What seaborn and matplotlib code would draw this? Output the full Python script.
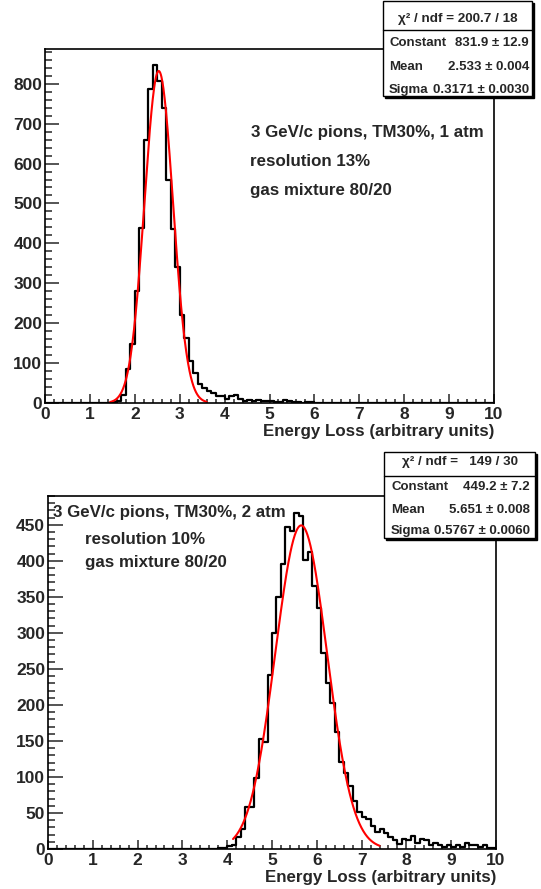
import numpy as np
import pandas as pd
import seaborn as sns
import matplotlib
matplotlib.use("Agg")
import matplotlib.pyplot as plt
from matplotlib.patches import Rectangle
from matplotlib.ticker import MultipleLocator

# histogram counts, 100 bins of 0.1 between 0 and 10
bin_centers = np.arange(100) * 0.1 + 0.05

counts_1atm = [0] * 15 + [
    2, 5, 20, 86, 147, 281, 439, 660, 787, 846,        # 1.5 - 2.5
    807, 739, 560, 435, 342, 221, 164, 106, 75, 48,    # 2.5 - 3.5
    38, 31, 24, 17, 17, 10, 17, 20, 10, 6,             # 3.5 - 4.5
    8, 5, 7, 5, 5, 4, 3, 2, 7, 4,                      # 4.5 - 5.5
    2, 3, 1, 3, 2, 1, 1, 0, 1, 0,                      # 5.5 - 6.5
    1, 0, 0, 1, 0, 0, 1, 0, 0, 0,                      # 6.5 - 7.5
] + [0] * 25

counts_2atm = [0] * 38 + [
    1, 2,                                              # 3.8 - 4.0
    4, 5, 17, 28, 58, 58, 99, 153, 149, 241,           # 4.0 - 5.0
    300, 350, 396, 447, 441, 467, 462, 401, 412, 365,  # 5.0 - 6.0
    335, 272, 231, 202, 163, 121, 105, 88, 67, 52,     # 6.0 - 7.0
    45, 42, 32, 23, 28, 22, 16, 12, 7, 14,             # 7.0 - 8.0
    13, 18, 9, 14, 12, 5, 9, 5, 3, 5,                  # 8.0 - 9.0
    3, 5, 3, 9, 6, 5, 3, 5, 1, 2,                      # 9.0 - 10.0
]

# gaussian fit results (constant, mean, sigma) and fit ranges
fit_1atm = (831.9, 2.533, 0.3171)
fit_range_1atm = (1.45, 3.6)
fit_2atm = (449.2, 5.651, 0.5767)
fit_range_2atm = (4.13, 7.4)

stats_1atm = ["\u03c7\u00b2 / ndf = 200.7 / 18",
              ("Constant", "831.9 \u00b1 12.9"),
              ("Mean", "2.533 \u00b1 0.004"),
              ("Sigma", "0.3171 \u00b1 0.0030")]
stats_2atm = ["\u03c7\u00b2 / ndf =   149 / 30",
              ("Constant", "449.2 \u00b1 7.2"),
              ("Mean", "5.651 \u00b1 0.008"),
              ("Sigma", "0.5767 \u00b1 0.0060")]

notes_1atm = ["3 GeV/c pions, TM30%, 1 atm", "resolution 13%", "gas mixture 80/20"]
notes_2atm = ["3 GeV/c pions, TM30%, 2 atm", "resolution 10%", "gas mixture 80/20"]

sns.set_style("white")
plt.rcParams['font.family'] = ['Liberation Sans', 'DejaVu Sans']
plt.rcParams['font.weight'] = 'bold'

W, H = 541, 889
fig = plt.figure(figsize=(W / 100, H / 100), dpi=100)


def fx(px):
    return px / W


def fy(py):
    return 1 - py / H


def panel(rect, counts, fit, fit_range, ymax, ymaj, ymin, ylen):
    l, t, r, b = rect
    ax = fig.add_axes([fx(l), fy(b), (r - l) / W, (b - t) / H])
    df = pd.DataFrame({"x": bin_centers, "n": counts})
    sns.histplot(data=df, x="x", weights="n", bins=100, binrange=(0, 10),
                 element="step", fill=False, color="black", linewidth=1.6, ax=ax)
    a, mu, sg = fit
    xs = np.linspace(fit_range[0], fit_range[1], 300)
    sns.lineplot(x=xs, y=a * np.exp(-0.5 * ((xs - mu) / sg) ** 2),
                 color="red", linewidth=1.5, ax=ax)
    ax.set_xlim(0, 10)
    ax.set_ylim(0, ymax)
    ax.xaxis.set_major_locator(MultipleLocator(1))
    ax.xaxis.set_minor_locator(MultipleLocator(0.2))
    ax.yaxis.set_major_locator(MultipleLocator(ymaj))
    ax.yaxis.set_minor_locator(MultipleLocator(ymin))
    ax.tick_params(axis="x", which="major", direction="in", length=6.5, width=1.1,
                   labelsize=12.5, pad=3)
    ax.tick_params(axis="x", which="minor", direction="in", length=3.2, width=1.1)
    ax.tick_params(axis="y", which="major", direction="in", length=ylen, width=1.1,
                   labelsize=12.5, pad=2)
    ax.tick_params(axis="y", which="minor", direction="in", length=ylen / 2,
                   width=1.1)
    ax.tick_params(bottom=True, left=True, top=False, right=False, which="both")
    for lbl in ax.get_xticklabels() + ax.get_yticklabels():
        lbl.set_fontweight("bold")
    for s in ax.spines.values():
        s.set_linewidth(1.2)
        s.set_color("black")
    ax.set_ylabel("")
    ax.set_xlabel("Energy Loss (arbitrary units)", loc="right", fontsize=12.2,
                  fontweight="bold", labelpad=1)
    return ax


def stats_box(l, t, r, b, sep, rows, rows_y, lx, rx):
    fig.add_artist(Rectangle((fx(l + 2), fy(b + 2)), (r - l) / W, (b - t) / H,
                             transform=fig.transFigure, facecolor="black",
                             edgecolor="black", zorder=5))
    fig.add_artist(Rectangle((fx(l), fy(b)), (r - l) / W, (b - t) / H,
                             transform=fig.transFigure, facecolor="white",
                             edgecolor="black", linewidth=1, zorder=6))
    fig.add_artist(plt.Line2D([fx(l), fx(r)], [fy(sep), fy(sep)],
                              transform=fig.transFigure, color="black",
                              linewidth=1, zorder=7))
    header, *params = rows
    fig.text(fx((l + r) / 2), fy(rows_y[0]), header, ha="center", va="center",
             fontsize=9.7, fontweight="bold", zorder=8)
    for (name, val), yy in zip(params, rows_y[1:]):
        fig.text(fx(lx), fy(yy), name, ha="left", va="center", fontsize=9.5,
                 fontweight="bold", zorder=8)
        fig.text(fx(rx), fy(yy), val, ha="right", va="center", fontsize=9.5,
                 fontweight="bold", zorder=8)


ax1 = panel((45, 49, 494, 403), counts_1atm, fit_1atm, fit_range_1atm,
            887, 100, 20, 10)
ax2 = panel((48, 496, 496, 849), counts_2atm, fit_2atm, fit_range_2atm,
            490, 50, 10, 10.5)

stats_box(383, 1, 532, 96, 30, stats_1atm, [19, 43, 67, 90], 389, 529)
stats_box(384, 452, 535, 538, 476, stats_2atm, [462, 487, 510, 531], 391, 530)

for txt, (px, py) in zip(notes_1atm, [(251, 133), (250, 161), (250, 190)]):
    fig.text(fx(px), fy(py), txt, ha="left", va="center", fontsize=12.2,
             fontweight="bold")
for txt, (px, py) in zip(notes_2atm, [(53, 512), (85, 540), (85, 563)]):
    fig.text(fx(px), fy(py), txt, ha="left", va="center", fontsize=12.2,
             fontweight="bold")

fig.savefig("out.png", dpi=100, facecolor="white")
